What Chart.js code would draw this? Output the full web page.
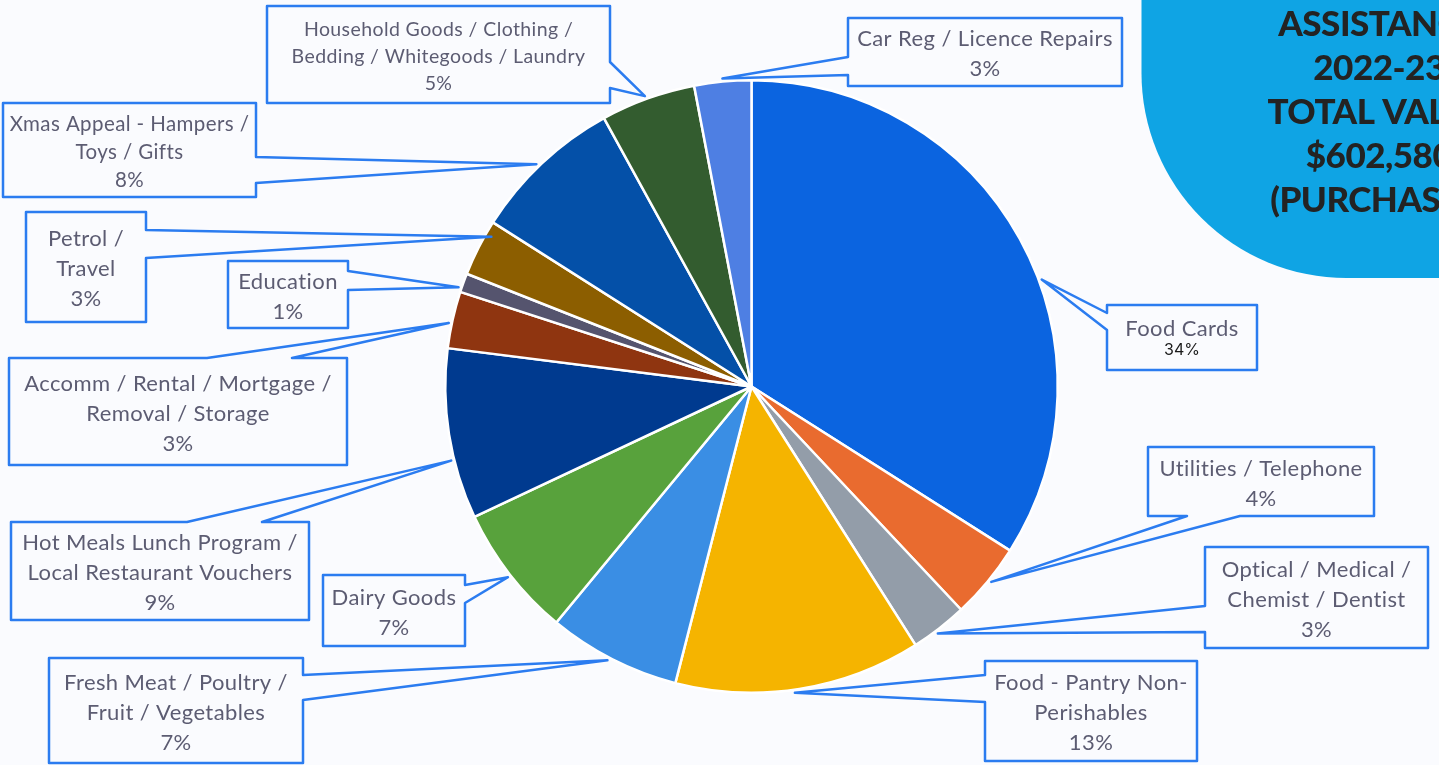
<!DOCTYPE html>
<html>
<head>
<meta charset="utf-8">
<script src="https://cdn.jsdelivr.net/npm/chart.js@4"></script>
<style>
  html, body { margin: 0; padding: 0; background: #fafbfe; overflow: hidden; }
  canvas { display: block; }
</style>
</head>
<body>
<canvas id="pie" width="1439" height="765"></canvas>
<script>
// slices, clockwise from 12 o'clock
const categories = [
  'Food Cards',
  'Utilities / Telephone',
  ['Optical / Medical /', 'Chemist / Dentist'],
  ['Food - Pantry Non-', 'Perishables'],
  ['Fresh Meat / Poultry /', 'Fruit / Vegetables'],
  'Dairy Goods',
  ['Hot Meals Lunch Program /', 'Local Restaurant Vouchers'],
  ['Accomm / Rental / Mortgage /', 'Removal / Storage'],
  'Education',
  ['Petrol /', 'Travel'],
  ['Xmas Appeal - Hampers /', 'Toys / Gifts'],
  ['Household Goods / Clothing /', 'Bedding / Whitegoods / Laundry'],
  'Car Reg / Licence Repairs'
];
const shares = [34, 4, 3, 13, 7, 7, 9, 3, 1, 3, 8, 5, 3];
const sliceColors = [
  '#0b64e0', '#e96b2f', '#939da9', '#f5b400', '#3a8ee4', '#58a23c', '#003a8f',
  '#8f3510', '#55546e', '#8c5e00', '#0450a8', '#335c2f', '#4e7fe3'
];
const titleLines = ['ASSISTANCE', '2022-23', 'TOTAL VALUE', '$602,580', '(PURCHASES)'];

// callout boxes: [x, y, w, h], which side the pointer leaves from,
// where its base sits on that side, and where along the slice it points
const callouts = [
  { box: [1107, 305, 150, 65], side: 'left', base: [313, 330], at: 0.57, lh: 21 },
  { box: [1148, 447, 226, 69], side: 'bottom', base: [1187, 1240], at: 0.47 },
  { box: [1205, 547, 223, 101], side: 'left', base: [606, 632], at: 0.57 },
  { box: [985, 661, 212, 100], side: 'left', base: [675, 702], at: 0.52 },
  { box: [49, 658, 254, 105], side: 'right', base: [675, 700], at: 0.53 },
  { box: [323, 575, 142, 71], side: 'right', base: [585, 603], at: 0.49 },
  { box: [11, 522, 298, 98], side: 'top', base: [187, 262], at: 0.35 },
  { box: [9, 358, 338, 107], side: 'top', base: [207, 292], at: 0.43 },
  { box: [228, 261, 120, 67], side: 'right', base: [271, 290], at: 0.2 },
  { box: [26, 212, 120, 110], side: 'right', base: [230, 258], at: 0.77, reach: 0.98 },
  { box: [3, 103, 253, 94], side: 'right', base: [157, 183], at: 0.47, lh: 28, size: 20.5 },
  { box: [267, 6, 343, 97], side: 'right', base: [62, 88], at: 0.48, lh: 27, size: 19.5 },
  { box: [848, 18, 274, 68], side: 'left', base: [57, 75], at: 0.5 }
];

const BG = '#fafbfe';

function calloutPath(ctx, c, tip) {
  const [x, y, w, h] = c.box;
  const [a, b] = c.base;
  ctx.beginPath();
  ctx.moveTo(x, y);
  if (c.side === 'top') { ctx.lineTo(a, y); ctx.lineTo(tip.x, tip.y); ctx.lineTo(b, y); }
  ctx.lineTo(x + w, y);
  if (c.side === 'right') { ctx.lineTo(x + w, a); ctx.lineTo(tip.x, tip.y); ctx.lineTo(x + w, b); }
  ctx.lineTo(x + w, y + h);
  if (c.side === 'bottom') { ctx.lineTo(b, y + h); ctx.lineTo(tip.x, tip.y); ctx.lineTo(a, y + h); }
  ctx.lineTo(x, y + h);
  if (c.side === 'left') { ctx.lineTo(x, b); ctx.lineTo(tip.x, tip.y); ctx.lineTo(x, a); }
  ctx.closePath();
}

const backdrop = {
  id: 'backdrop',
  beforeDraw(chart) {
    const ctx = chart.ctx;
    ctx.save();
    ctx.fillStyle = BG;
    ctx.fillRect(0, 0, chart.width, chart.height);

    // blue corner panel with the totals
    ctx.fillStyle = '#0fa4e4';
    ctx.beginPath();
    ctx.roundRect(1141.5, -400, 700, 678, [0, 0, 0, 205]);
    ctx.fill();

    ctx.fillStyle = '#232323';
    ctx.font = '900 35px Lato';
    ctx.letterSpacing = '-0.5px';
    ctx.textAlign = 'center';
    ctx.textBaseline = 'middle';
    titleLines.forEach((t, i) => ctx.fillText(t, 1379, 25 + i * 44));
    ctx.restore();
  }
};

const labelBoxes = {
  id: 'labelBoxes',
  afterDatasetsDraw(chart) {
    const ctx = chart.ctx;
    const arcs = chart.getDatasetMeta(0).data;
    ctx.save();
    callouts.forEach((c, i) => {
      const p = arcs[i].getProps(['x', 'y', 'startAngle', 'endAngle', 'outerRadius']);
      const ang = p.startAngle + (p.endAngle - p.startAngle) * c.at;
      const r = p.outerRadius * (c.reach || 1.01);
      const tip = { x: p.x + Math.cos(ang) * r, y: p.y + Math.sin(ang) * r };

      calloutPath(ctx, c, tip);
      ctx.fillStyle = BG;
      ctx.fill();
      ctx.lineWidth = 2.5;
      ctx.lineJoin = 'round';
      ctx.strokeStyle = '#2b7cf0';
      ctx.stroke();

      const name = Array.isArray(categories[i]) ? categories[i] : [categories[i]];
      const lines = name.concat(shares[i] + '%');
      const lh = c.lh || 30;
      const [x, y, w, h] = c.box;
      const cx = x + w / 2;
      const top = y + h / 2 + 2 - (lines.length - 1) * lh / 2;
      ctx.textAlign = 'center';
      ctx.textBaseline = 'middle';
      lines.forEach((t, k) => {
        const pct = k === lines.length - 1;
        if (i === 0 && pct) {
          ctx.font = '16px Inter';
          ctx.letterSpacing = '0px';
          ctx.fillStyle = '#1a1a1a';
        } else {
          ctx.font = (c.size || 22) + 'px Lato';
          ctx.letterSpacing = '0.4px';
          ctx.fillStyle = '#5c5c72';
        }
        ctx.fillText(t, cx, top + k * lh);
      });
    });
    ctx.restore();
  }
};

new Chart(document.getElementById('pie'), {
  type: 'pie',
  data: {
    labels: categories,
    datasets: [{
      data: shares,
      backgroundColor: sliceColors,
      borderColor: '#ffffff',
      borderWidth: 2.5
    }]
  },
  options: {
    responsive: false,
    animation: false,
    layout: { padding: { left: 444, right: 380, top: 79, bottom: 71 } },
    plugins: { legend: { display: false }, tooltip: { enabled: false } }
  },
  plugins: [backdrop, labelBoxes]
});
</script>
</body>
</html>
